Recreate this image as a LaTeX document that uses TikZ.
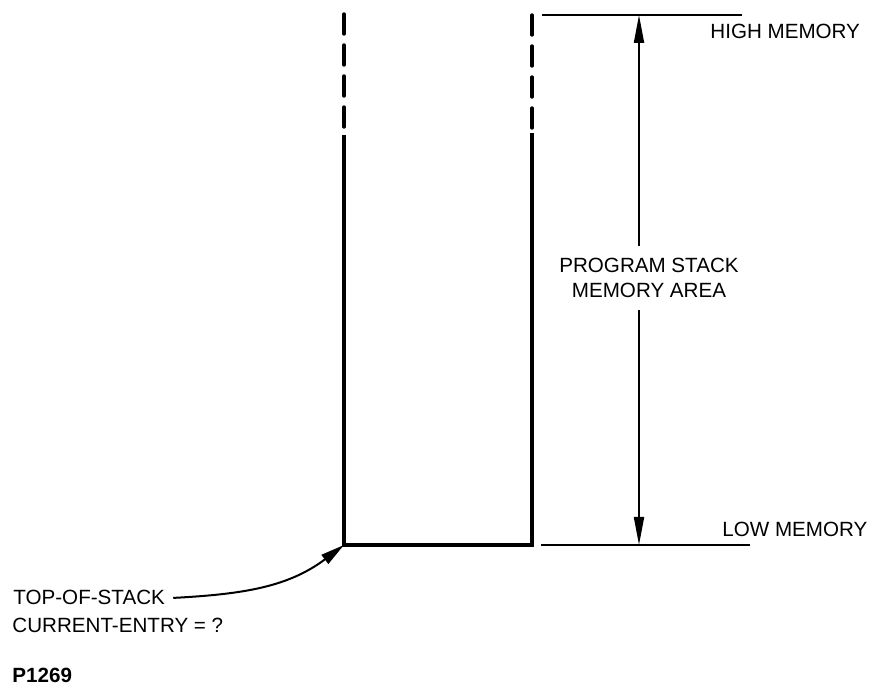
\documentclass[tikz,border=0pt]{standalone}
\usepackage{fontspec}
\setmainfont{Liberation Sans}
\usepackage{xcolor}
\definecolor{cInk}{HTML}{000000}
\usetikzlibrary{positioning,arrows.meta}
\tikzset{
  wall/.style={draw=cInk,line width=1.7pt},
  wall-dash/.style={wall,line cap=round,dash pattern=on 10pt off 5.5pt},
  bound-line/.style={draw=cInk,line width=1pt},
  mem-arrow/.style={-{Triangle[length=14pt,width=5pt]},draw=cInk,line width=1pt},
  ptr-arrow/.style={-{Triangle[length=12pt,width=5.5pt]},draw=cInk,line width=1pt},
  mem-label/.style={font=\fontsize{10.3}{12.5}\selectfont,inner sep=0pt,anchor=base west},
}
\begin{document}
\begin{tikzpicture}[x=0.5pt,y=-0.5pt]
  \useasboundingbox (0,0) rectangle (869,688);
  % stack walls
  \coordinate (lwtop) at (344,14);
  \coordinate (lwmid) at (344,135);
  \coordinate (corner) at (344,545);
  \coordinate (rwtop) at (532,15);
  \coordinate (rwmid) at (532,133);
  \coordinate (rwbot) at (532,545);
  \draw[wall-dash] (lwtop) -- (lwmid);
  \draw[wall-dash] (rwtop) -- (rwmid);
  \draw[wall,line join=miter] (lwmid) -- (corner) -- (rwbot) -- (rwmid);
  % memory bounds
  \coordinate (hiL) at (542,15);
  \coordinate (hiR) at (742,15);
  \coordinate (loL) at (541,545);
  \coordinate (loR) at (750,545);
  \draw[bound-line] (hiL) -- (hiR);
  \draw[bound-line] (loL) -- (loR);
  \node[mem-label] (hi) at (710,39) {HIGH MEMORY};
  \node[mem-label] (lo) at (722,537) {LOW MEMORY};
  % extent of the stack area
  \coordinate (hitip) at (639,15);
  \coordinate (lotip) at (639,545);
  \node[font=\fontsize{10.3}{12.5}\selectfont,align=center,inner sep=6pt]
    (area) at (649,278) {PROGRAM STACK\\MEMORY AREA};
  \draw[mem-arrow] (area.north -| hitip) -- (hitip);
  \draw[mem-arrow] (area.south -| lotip) -- (lotip);
  % pointers
  \node[mem-label] (tos) at (13,605) {TOP-OF-STACK};
  \node[mem-label] (cur) at (12,633) {CURRENT-ENTRY = ?};
  \node[mem-label,font=\fontsize{10.3}{12.5}\selectfont\bfseries] (fig) at (12,683) {P1269};
  \draw[ptr-arrow] ([xshift=4pt]tos.east) to[out=3,in=217] (corner);
\end{tikzpicture}
\end{document}
